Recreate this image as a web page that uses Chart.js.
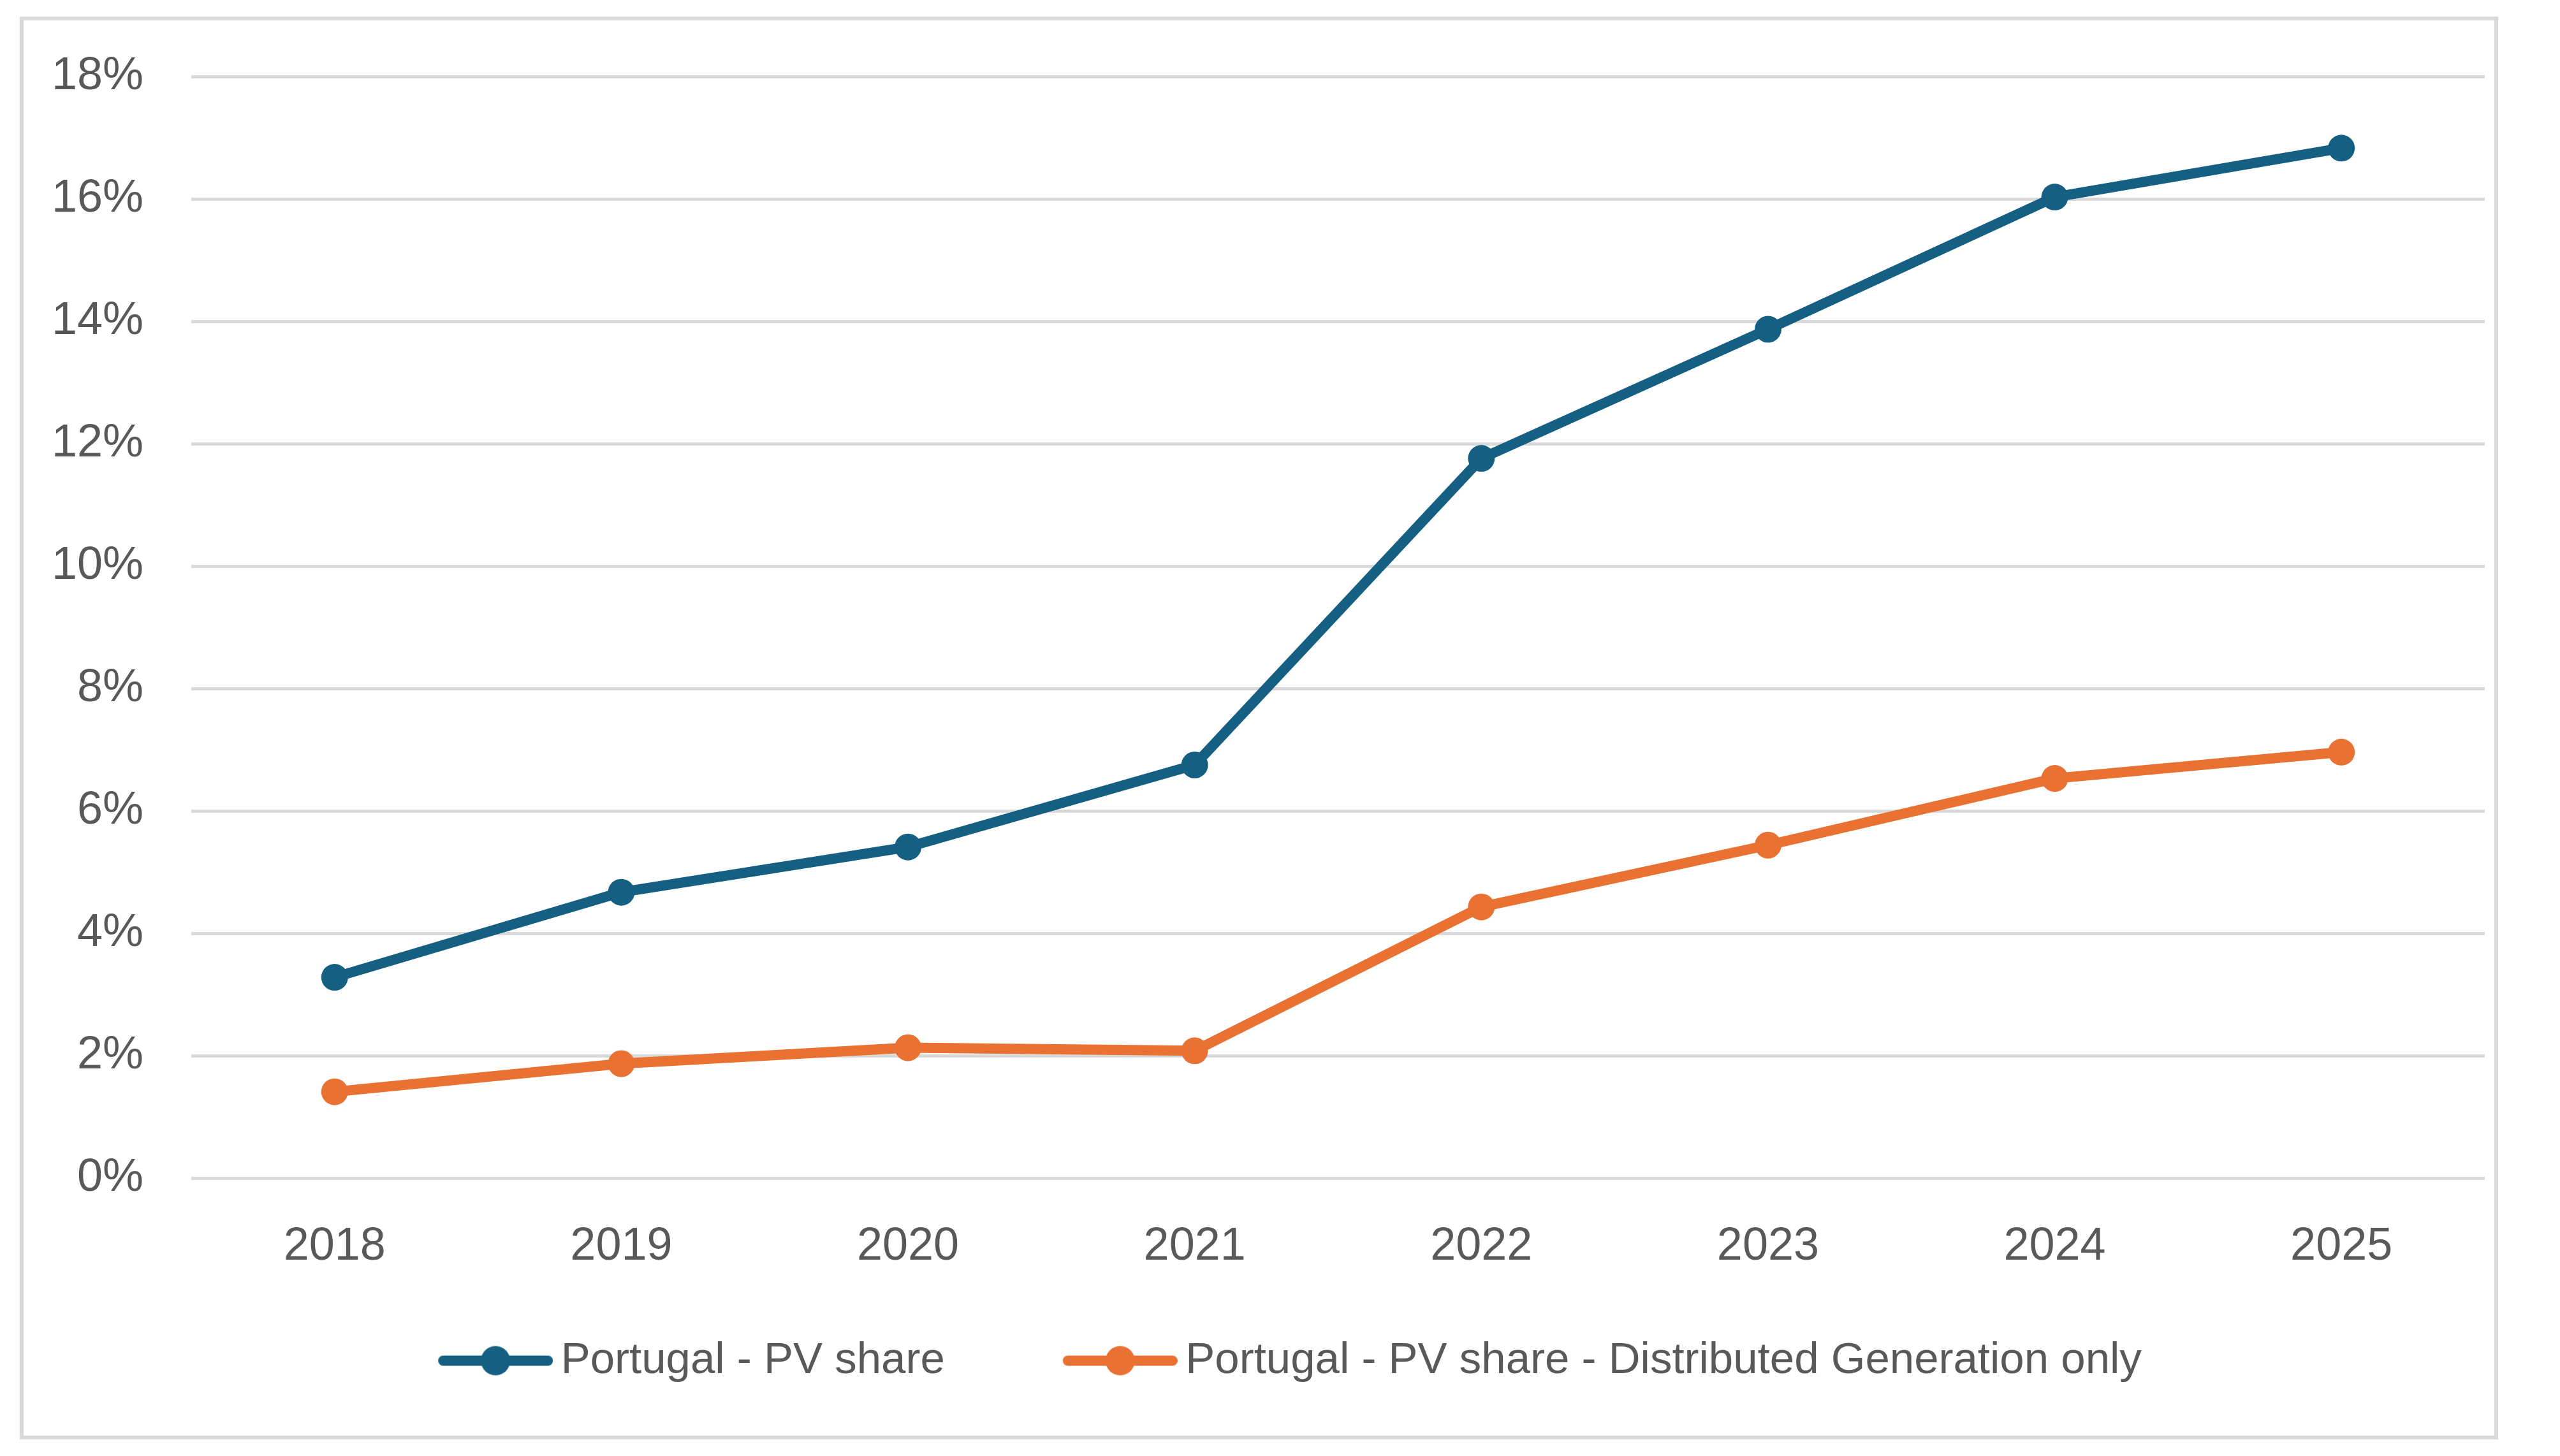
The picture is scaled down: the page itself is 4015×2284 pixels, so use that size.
<!DOCTYPE html>
<html>
<head>
<meta charset="utf-8">
<script src="https://cdn.jsdelivr.net/npm/chart.js@4.4.0/dist/chart.umd.min.js"></script>
<style>
  html, body { margin: 0; padding: 0; background: #fff; }
  #wrap { position: relative; width: 4015px; height: 2284px; }
  #frame {
    position: absolute; left: 31px; top: 26px; width: 3887px; height: 2232px;
    box-sizing: border-box; border: 6px solid #d9d9d9; pointer-events: none;
  }
</style>
</head>
<body>
<div id="wrap">
  <canvas id="chart"></canvas>
  <div id="frame"></div>
</div>
<script>
// chart data
const years = ["2018", "2019", "2020", "2021", "2022", "2023", "2024", "2025"];
const pvShare = [3.28, 4.67, 5.41, 6.75, 11.76, 13.87, 16.03, 16.83];
const pvShareDG = [1.41, 1.87, 2.13, 2.08, 4.43, 5.44, 6.53, 6.96];
const yTicks = [0, 2, 4, 6, 8, 10, 12, 14, 16, 18];

const BLUE = "#156082";
const ORANGE = "#E97132";
const TEXT = "#595959";
const GRID = "#d9d9d9";

// legend swatch: short line with a dot in the middle (Excel style).
// the canvas is wider than the mark, the left part stays empty so
// the gap between the two legend items comes out right
const SW_BOX = 246;
function swatch(color) {
  const c = document.createElement("canvas");
  c.width = SW_BOX + 44; c.height = 52;
  const g = c.getContext("2d");
  const x0 = c.width - 180;
  g.strokeStyle = color;
  g.fillStyle = color;
  g.lineWidth = 16;
  g.lineCap = "round";
  g.beginPath(); g.moveTo(x0 + 8, 26); g.lineTo(x0 + 172, 26); g.stroke();
  g.beginPath(); g.arc(x0 + 90, 26, 23, 0, Math.PI * 2); g.fill();
  return c;
}
const swatches = [swatch(BLUE), swatch(ORANGE)];

new Chart(document.getElementById("chart"), {
  type: "line",
  data: {
    labels: years,
    datasets: [
      {
        label: "Portugal - PV share",
        data: pvShare,
        borderColor: BLUE, backgroundColor: BLUE,
        borderWidth: 16, pointRadius: 21, pointBorderWidth: 0,
        pointBackgroundColor: BLUE, tension: 0
      },
      {
        label: "Portugal - PV share - Distributed Generation only",
        data: pvShareDG,
        borderColor: ORANGE, backgroundColor: ORANGE,
        borderWidth: 16, pointRadius: 21, pointBorderWidth: 0,
        pointBackgroundColor: ORANGE, tension: 0
      }
    ]
  },
  options: {
    responsive: true,
    maintainAspectRatio: false,
    animation: false,
    layout: { padding: { left: 61, right: 118, top: 120, bottom: 105 } },
    scales: {
      x: {
        offset: true,
        grid: { display: false, drawTicks: false },
        border: { display: false },
        ticks: { color: TEXT, padding: 65, font: { family: "Liberation Sans", size: 72 } },
        afterFit: (s) => { s.height = 155; }
      },
      y: {
        min: 0, max: 18,
        afterBuildTicks: (s) => { s.ticks = yTicks.map(v => ({ value: v })); },
        grid: { color: GRID, lineWidth: 5, drawTicks: false },
        border: { display: false },
        ticks: {
          color: TEXT, padding: 75,
          font: { family: "Liberation Sans", size: 72 },
          callback: (v) => v + "%"
        },
        afterFit: (s) => { s.width = 239; }
      }
    },
    plugins: {
      tooltip: { enabled: false },
      legend: {
        position: "bottom",
        labels: {
          usePointStyle: true,
          pointStyleWidth: SW_BOX,
          padding: 97,
          color: TEXT,
          font: { family: "Liberation Sans", size: 69 },
          generateLabels: (chart) => chart.data.datasets.map((ds, i) => ({
            text: ds.label,
            pointStyle: swatches[i],
            fillStyle: ds.borderColor,
            strokeStyle: ds.borderColor,
            lineWidth: 0,
            fontColor: TEXT,
            hidden: false,
            datasetIndex: i
          }))
        }
      }
    }
  }
});
</script>
</body>
</html>
